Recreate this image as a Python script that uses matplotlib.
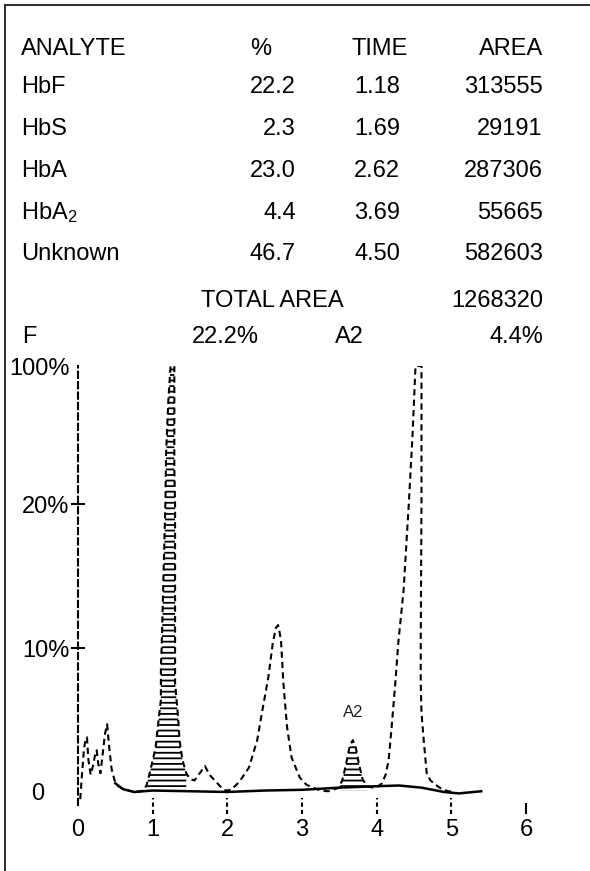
import numpy as np
import matplotlib
matplotlib.use("Agg")
import matplotlib.pyplot as plt
from matplotlib.lines import Line2D
from matplotlib.transforms import ScaledTranslation

plt.rcParams['font.family'] = ['Liberation Sans', 'DejaVu Sans']
plt.rcParams['mathtext.default'] = 'regular'
plt.rcParams['hatch.linewidth'] = 1.3

# report table
ANALYTES = ["HbF", "HbS", "HbA", "HbA$_2$", "Unknown"]
PCT = [22.2, 2.3, 23.0, 4.4, 46.7]
TIME = [1.18, 1.69, 2.62, 3.69, 4.50]
AREA = [313555, 29191, 287306, 55665, 582603]
TOTAL_AREA = 1268320
F_PCT = 22.2
A2_PCT = 4.4

# chromatogram trace (time in min, % of scale)
TRACE_T = [0.03, 0.05, 0.08, 0.10, 0.12, 0.14, 0.17, 0.20, 0.23, 0.25, 0.27, 0.30,
           0.33, 0.36, 0.39, 0.42, 0.45, 0.49, 0.54, 0.60, 0.68, 0.78, 0.88,
           0.92, 0.96, 1.00, 1.04, 1.06, 1.09, 1.11, 1.11, 1.12, 1.14, 1.17, 1.18,
           1.21, 1.24, 1.26, 1.28, 1.29, 1.29, 1.29, 1.30, 1.30, 1.30, 1.34, 1.36,
           1.40, 1.45,
           1.50, 1.56, 1.63, 1.70, 1.76, 1.85, 1.92, 1.98, 2.05,
           2.16, 2.29, 2.40, 2.47, 2.55, 2.61, 2.65, 2.68, 2.70, 2.72, 2.75, 2.80,
           2.86, 2.97, 3.06, 3.15, 3.25, 3.35, 3.44,
           3.50, 3.55, 3.60, 3.64, 3.68, 3.72, 3.76, 3.81, 3.87, 3.95, 4.02,
           4.07, 4.12, 4.16, 4.20, 4.25, 4.29, 4.36, 4.43, 4.48, 4.52, 4.56, 4.60,
           4.60, 4.60, 4.59, 4.59, 4.60, 4.63, 4.67, 4.72, 4.79, 4.87, 4.96, 5.05]
TRACE_V = [-0.5, 1.0, 3.0, 3.6, 3.8, 2.2, 1.2, 1.8, 2.6, 2.9, 2.0, 1.3,
           2.6, 4.0, 4.7, 3.0, 1.6, 0.8, 0.4, 0.25, 0.1, 0.0, 0.1,
           0.5, 1.3, 2.2, 3.1, 4.1, 5.5, 6.4, 8.7, 10.0, 14.0, 20.0, 50.0,
           80.0, 100.0, 115.0, 115.0, 100.0, 70.0, 40.0, 20.0, 12.0, 7.6, 5.2, 3.6,
           2.2, 1.3,
           0.9, 0.8, 1.3, 1.8, 1.2, 0.7, 0.3, 0.1, 0.15,
           0.7, 1.7, 3.6, 5.7, 8.0, 10.4, 11.4, 11.6, 11.1, 10.4, 7.6, 4.5,
           2.4, 1.0, 0.5, 0.3, 0.1, 0.05, 0.2,
           0.3, 1.0, 2.2, 3.2, 3.6, 3.1, 2.0, 0.9, 0.4, 0.3, 0.4,
           0.6, 1.2, 2.2, 4.5, 7.6, 10.4, 14.0, 20.0, 60.0, 100.0, 115.0, 100.0,
           60.0, 20.0, 10.4, 7.6, 5.5, 3.6, 1.3, 0.8, 0.5, 0.2, 0.05, 0.0]

# integration baseline
BASE_T = [0.50, 0.60, 0.75, 1.00, 1.50, 2.00, 2.50, 3.00, 3.50, 4.00, 4.30, 4.60, 4.90, 5.10, 5.40]
BASE_V = [0.6, 0.2, 0.0, 0.1, 0.05, 0.0, 0.1, 0.15, 0.3, 0.4, 0.45, 0.3, 0.0, -0.1, 0.05]

XTICKS = [0, 1, 2, 3, 4, 5, 6]
YTICKS = [0, 10, 20, 100]
YLABELS = ["0", "10%", "20%", "100%"]

# the printout squeezes 20-100 % into the same height as 0-10 %
BRK = [0, 10, 20, 100]
POS = [0, 1, 2, 2.96]


def fwd(v):
    v = np.asarray(v, dtype=float)
    return np.where(v < 0, v / 10.0, np.interp(v, BRK, POS))


def inv(s):
    s = np.asarray(s, dtype=float)
    return np.where(s < 0, s * 10.0, np.interp(s, POS, BRK))


W, H = 590, 871
fig = plt.figure(figsize=(W / 100, H / 100), dpi=100)


def fx(x):
    return x / W


def fy(y):
    return 1 - y / H


# frame of the printout
fig.add_artist(Line2D([fx(5), fx(590)], [fy(5), fy(5)], color='#333333', lw=1.5))
fig.add_artist(Line2D([fx(5), fx(5)], [fy(5), fy(871)], color='#333333', lw=1.5))

# ---- table ----
FS = 17
rows_y = [93, 135, 177, 219, 260]
fig.text(fx(21), fy(55), "ANALYTE", fontsize=FS, va='baseline')
fig.text(fx(250), fy(55), "%", fontsize=FS, va='baseline')
fig.text(fx(352), fy(55), "TIME", fontsize=FS, va='baseline')
fig.text(fx(543), fy(55), "AREA", fontsize=FS, va='baseline', ha='right')
for name, p, t, a, y in zip(ANALYTES, PCT, TIME, AREA, rows_y):
    fig.text(fx(21), fy(y), name, fontsize=FS, va='baseline')
    fig.text(fx(296), fy(y), f"{p:.1f}", fontsize=FS, va='baseline', ha='right')
    fig.text(fx(400), fy(y), f"{t:.2f}", fontsize=FS, va='baseline', ha='right')
    fig.text(fx(543), fy(y), f"{a}", fontsize=FS, va='baseline', ha='right')
fig.text(fx(201), fy(307), "TOTAL AREA", fontsize=FS, va='baseline')
fig.text(fx(543), fy(307), f"{TOTAL_AREA}", fontsize=FS, va='baseline', ha='right')
fig.text(fx(22), fy(343), "F", fontsize=FS, va='baseline')
fig.text(fx(192), fy(343), f"{F_PCT:.1f}%", fontsize=FS, va='baseline')
fig.text(fx(335), fy(343), "A2", fontsize=FS, va='baseline')
fig.text(fx(543), fy(343), f"{A2_PCT:.1f}%", fontsize=FS, va='baseline', ha='right')

# ---- chromatogram ----
ax = fig.add_axes([fx(10), fy(815), (585 - 10) / W, (815 - 366) / H])
ax.set_yscale('function', functions=(fwd, inv))
ax.set_xlim((10 - 78) / 74.67, (585 - 78) / 74.67)
ax.set_ylim(-1.6, 100)
ax.patch.set_alpha(0)

for s in ['top', 'right', 'bottom']:
    ax.spines[s].set_visible(False)
ax.spines['left'].set_position(('data', 0))
ax.spines['left'].set_linestyle((0, (3, 2)))
ax.spines['left'].set_linewidth(1.5)
ax.spines['left'].set_bounds(-0.9, 100)

ax.set_xticks(XTICKS)
ax.set_xticklabels([str(x) for x in XTICKS])
ax.tick_params(axis='x', length=0, pad=3, labelsize=FS)
ax.set_yticks(YTICKS)
ax.set_yticklabels(YLABELS)
ax.yaxis.set_minor_locator(matplotlib.ticker.NullLocator())
ax.tick_params(axis='y', direction='inout', length=10, width=1.5, pad=1, labelsize=FS)
for tk, v in zip(ax.yaxis.get_major_ticks(), YTICKS):
    if v in (0, 100):
        tk.tick1line.set_visible(False)
# the zero label sits further left on the printout
for lbl in ax.get_yticklabels():
    if lbl.get_text() == "0":
        lbl.set_transform(lbl.get_transform() + ScaledTranslation(-0.25, 0, fig.dpi_scale_trans))

# dashed x tick marks below the baseline
ax.vlines(XTICKS[1:-1], -1.5, -0.4, colors='black', linestyles=(0, (2, 1.5)), lw=1.5)
ax.vlines(XTICKS[-1:], -1.5, -0.8, colors='black', lw=1.5)

tt = np.array(TRACE_T)
vv = np.array(TRACE_V)

# hatched peak bodies (HbF, HbA2)
for lo, hi in [(0.90, 1.47), (3.48, 3.90)]:
    m = (tt >= lo) & (tt <= hi)
    ax.fill(np.r_[tt[m], tt[m][-1], tt[m][0]], np.r_[vv[m], 0.1, 0.1],
            facecolor='none', edgecolor='black', hatch='---', lw=0)

ax.plot(BASE_T, BASE_V, color='black', lw=1.8)
ax.plot(tt, vv, color='black', lw=1.5, linestyle=(0, (3, 2)))

ax.text(TIME[3], 5.5, "A2", fontsize=12, ha='center', va='center', color='#222222')

fig.savefig("out.png", dpi=100)
